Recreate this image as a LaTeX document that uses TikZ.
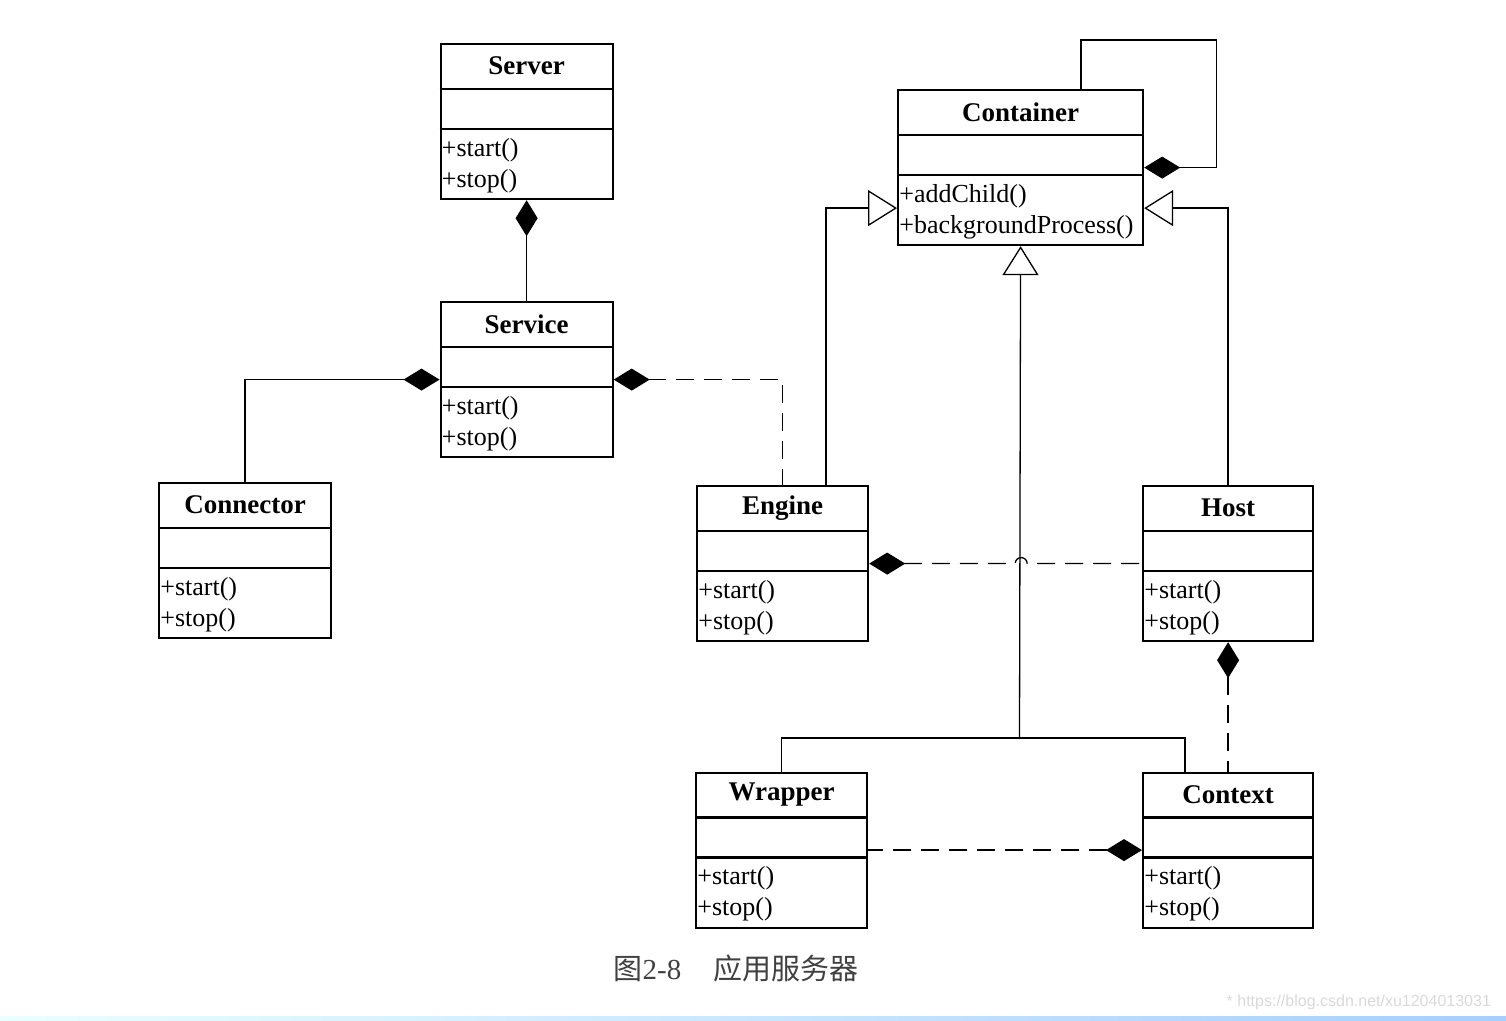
\documentclass[tikz,border=0pt]{standalone}
\usepackage{fontspec}
\setmainfont{Liberation Serif}
\newfontfamily\cjk{Noto Sans CJK SC}
\newfontfamily\wmfont{Liberation Sans}
\usetikzlibrary{arrows.meta,calc}

% class box: name, width, top-left, title, operations
\newcommand{\umlclass}[5]{%
  \node[classbox, minimum width=#2, anchor=north west] (#1) at #3 {};
  \draw[sepline] ([yshift=-23pt]#1.north west) -- ([yshift=-23pt]#1.north east);
  \draw[sepline] ([yshift=-43pt]#1.north west) -- ([yshift=-43pt]#1.north east);
  \node[classname] (#1-name) at ([yshift=-11.5pt]#1.north) {#4};
  \node[classops, anchor=north west] (#1-ops) at ([yshift=-43pt]#1.north west) {#5};
}

\begin{document}
\begin{tikzpicture}[
    x=0.5pt, y=-0.5pt,
    classbox/.style={rectangle, draw, line width=1.1pt, minimum height=77.5pt, inner sep=0pt},
    sepline/.style={line width=1.1pt},
    classname/.style={font=\fontsize{13.5}{15.5}\selectfont\bfseries, inner sep=0pt},
    classops/.style={font=\fontsize{13}{15.5}\selectfont, align=left, inner xsep=1pt, inner ysep=4.5pt},
    assoc/.style={draw, line width=0.65pt},
    comp/.style={assoc, {Diamond[length=18pt,width=11pt]}-},
    compdash/.style={comp, dash pattern=on 9pt off 5pt},
    gen/.style={assoc, -{Triangle[open, length=14.5pt, width=18pt]}},
    caption/.style={font=\fontsize{14.5}{17}\selectfont, text=black!75},
    watermark/.style={font=\wmfont\fontsize{8}{10}\selectfont, text=black!15}
]
\useasboundingbox (0,0) rectangle (1506,1021);

% --- Classes ---

% Server side
\umlclass{server}{86pt}{(439.5,43)}{Server}{+start()\\+stop()}
\umlclass{service}{86pt}{(439.5,301)}{Service}{+start()\\+stop()}
\umlclass{connector}{86pt}{(158,482)}{Connector}{+start()\\+stop()}

% Containers
\umlclass{container}{122.5pt}{(897,89)}{Container}{+addChild()\\+backgroundProcess()}
\umlclass{engine}{85.5pt}{(696,485)}{Engine}{+start()\\+stop()}
\umlclass{host}{85pt}{(1142,485)}{Host}{+start()\\+stop()}
\umlclass{wrapper}{85.5pt}{(695,771.5)}{Wrapper}{+start()\\+stop()}
\umlclass{context}{85pt}{(1142,771.5)}{Context}{+start()\\+stop()}

% --- Connectors ---
\draw[comp] (server.south) -- (service.north);
\draw[comp] (service.west) -| (connector.north);
\draw[compdash] (service.east) -| (engine.north);

\draw[gen] ([xshift=21.75pt]engine.north) |- ([yshift=-20.25pt]container.west);
\draw[gen] (host.north) |- ([yshift=-20.25pt]container.east);
\draw[comp] (container.east) -- ++(72,0) |- ([xshift=30.25pt,yshift=24.5pt]container.north)
    -- ([xshift=30.25pt]container.north);

\coordinate (join) at (1019.5,738);
\draw[gen] (join) -- (container.south);
\draw[assoc] (wrapper.north) |- (join) -| ([xshift=-21.5pt]context.north);

\draw[compdash] (engine.east) -- ++(146,0) arc(180:360:6) -- (host.west);
\draw[compdash] (host.south) -- (context.north);
\draw[compdash] (context.west) -- (wrapper.east);

% --- Caption ---
\node[caption] (caption) at (736,968) {{\cjk 图}2-8\hspace{16pt}{\cjk 应用服务器}};
\node[watermark, anchor=east] (wm) at (1498,1002) {* https://blog.csdn.net/xu1204013031};
\shade[left color=cyan!8, right color=cyan!45!blue!35] (0,1016) rectangle (1506,1021);

\end{tikzpicture}
\end{document}
